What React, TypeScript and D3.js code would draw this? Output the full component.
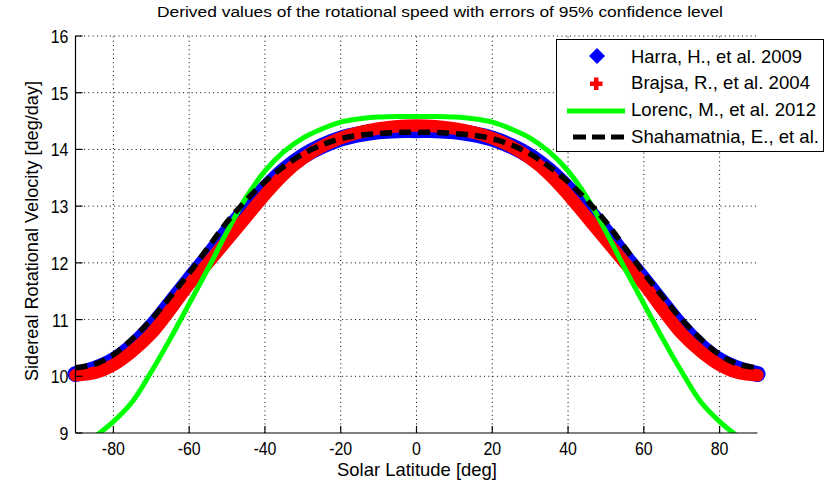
import React from "react";
import * as d3 from "d3";

// solar latitude [deg], one sample every 5 deg
const latitudes = [
  -90, -85, -80, -75, -70, -65, -60, -55, -50, -45, -40, -35, -30, -25, -20, -15, -10, -5, 0,
  5, 10, 15, 20, 25, 30, 35, 40, 45, 50, 55, 60, 65, 70, 75, 80, 85, 90,
];

// sidereal rotational velocity [deg/day]
const harra = [
  10.04, 10.13, 10.28, 10.53, 10.87, 11.28, 11.7, 12.11, 12.55, 12.95, 13.31, 13.63, 13.88, 14.06, 14.19, 14.27, 14.32, 14.34, 14.34,
  14.34, 14.32, 14.27, 14.19, 14.06, 13.88, 13.63, 13.31, 12.95, 12.55, 12.11, 11.7, 11.28, 10.87, 10.53, 10.28, 10.13, 10.04,
];
const brajsa = [
  10.02, 10.06, 10.2, 10.44, 10.75, 11.17, 11.62, 12.0, 12.4, 12.8, 13.2, 13.56, 13.84, 14.05, 14.2, 14.3, 14.37, 14.41, 14.42,
  14.41, 14.37, 14.3, 14.2, 14.05, 13.84, 13.56, 13.2, 12.8, 12.4, 12.0, 11.62, 11.17, 10.75, 10.44, 10.2, 10.06, 10.02,
];
const lorenc = [
  8.7, 8.93, 9.2, 9.55, 10.08, 10.66, 11.28, 11.9, 12.55, 13.15, 13.62, 13.96, 14.2, 14.36, 14.48, 14.54, 14.57, 14.58, 14.58,
  14.58, 14.57, 14.54, 14.48, 14.36, 14.2, 13.96, 13.62, 13.15, 12.55, 11.9, 11.28, 10.66, 10.08, 9.55, 9.2, 8.93, 8.7,
];
const shahamatnia = [
  10.15, 10.21, 10.38, 10.66, 11.0, 11.4, 11.82, 12.27, 12.72, 13.1, 13.43, 13.7, 13.92, 14.08, 14.19, 14.25, 14.28, 14.3, 14.3,
  14.3, 14.28, 14.25, 14.19, 14.08, 13.92, 13.7, 13.43, 13.1, 12.72, 12.27, 11.82, 11.4, 11.0, 10.66, 10.38, 10.21, 10.15,
];

const xTicks = [-80, -60, -40, -20, 0, 20, 40, 60, 80];
const yTicks = [9, 10, 11, 12, 13, 14, 15, 16];

const legendLabels = [
  "Harra, H., et al. 2009",
  "Brajsa, R., et al. 2004",
  "Lorenc, M., et al. 2012",
  "Shahamatnia, E., et al.",
];

const W = 827;
const H = 486;
const font = "'Liberation Sans Narrow', 'Liberation Sans', Arial, sans-serif";

export default function App() {
  const x = d3.scaleLinear().domain([-90, 90]).range([75.5, 757.5]);
  const y = d3.scaleLinear().domain([9, 16]).range([433, 36]);
  const [x0, x1] = x.range();
  const [y0, y1] = y.range();

  const line = (vals: number[]) =>
    d3
      .line<number>()
      .x((_, i) => x(latitudes[i]))
      .y((d) => y(d))
      .curve(d3.curveCatmullRom.alpha(0.5))(vals) || "";

  const legendW = [171, 179, 185, 188];

  return (
    <svg
      width={W}
      height={H}
      style={{ position: "absolute", left: 0, top: 0, background: "#fff" }}
    >
      <defs>
        <clipPath id="plot">
          <rect x={x0} y={y1} width={x1 - x0} height={y0 - y1} />
        </clipPath>
      </defs>

      {/* grid */}
      <g stroke="#000" strokeWidth={1} strokeDasharray="1,3.3">
        {xTicks.map((t) => (
          <line key={"gx" + t} x1={x(t)} x2={x(t)} y1={y0} y2={y1} />
        ))}
        {yTicks.slice(1).map((t) => (
          <line key={"gy" + t} x1={x0} x2={x1} y1={y(t)} y2={y(t)} />
        ))}
      </g>

      {/* series */}
      <path d={line(harra)} fill="none" stroke="#0000ff" strokeWidth={16} strokeLinecap="round" />
      <path d={line(brajsa)} fill="none" stroke="#ff0000" strokeWidth={12.5} strokeLinecap="round" />
      <path d={line(lorenc)} fill="none" stroke="#00ff00" strokeWidth={5} clipPath="url(#plot)" />
      <path d={line(shahamatnia)} fill="none" stroke="#000" strokeWidth={5.5} strokeDasharray="12,7" />

      {/* axes */}
      <g stroke="#000" strokeWidth={1.2}>
        <line x1={x0} x2={x0} y1={y0} y2={y1} />
        <line x1={x0} x2={x1} y1={y0} y2={y0} />
        {xTicks.map((t) => (
          <line key={"tx" + t} x1={x(t)} x2={x(t)} y1={y0} y2={y0 - 7} />
        ))}
        {yTicks.map((t) => (
          <line key={"ty" + t} x1={x0} x2={x0 + 7} y1={y(t)} y2={y(t)} />
        ))}
      </g>
      <g fontFamily={font} fontSize={19} fill="#000">
        {xTicks.map((t) => (
          <text
            key={"lx" + t}
            transform={`translate(${x(t)},${y0 + 22}) scale(0.84,1)`}
            textAnchor="middle"
          >
            {t}
          </text>
        ))}
        {yTicks.map((t) => (
          <text
            key={"ly" + t}
            transform={`translate(${x0 - 7},${y(t) + 7}) scale(0.84,1)`}
            textAnchor="end"
          >
            {t}
          </text>
        ))}
        <text x={417} y={476} textAnchor="middle" textLength={160} lengthAdjust="spacingAndGlyphs">
          Solar Latitude [deg]
        </text>
        <text
          transform={`translate(38,231) rotate(-90)`}
          textAnchor="middle"
          textLength={300}
          lengthAdjust="spacingAndGlyphs"
        >
          Sidereal Rotational Velocity [deg/day]
        </text>
        <text x={157} y={17} fontSize={15.5} textLength={566} lengthAdjust="spacingAndGlyphs">
          Derived values  of the rotational speed with errors of 95% confidence level
        </text>
      </g>

      {/* legend */}
      <g>
        <rect x={556.5} y={39.5} width={267} height={112} fill="#fff" stroke="#000" strokeWidth={1} />
        <path d="M597,48 L605,56 L597,64 L589,56 Z" fill="#0000ff" />
        <path
          d="M594,77.5 h4.5 v4 h4 v4.5 h-4 v4 h-4.5 v-4 h-4 v-4.5 h4 Z"
          fill="#ff0000"
        />
        <line x1={567} x2={625} y1={111} y2={111} stroke="#00ff00" strokeWidth={5} />
        <line x1={573} x2={625} y1={137} y2={137} stroke="#000" strokeWidth={5} strokeDasharray="13,6" />
        {legendLabels.map((l, i) => (
          <text
            key={l}
            x={631}
            y={62.5 + i * 26.7}
            fontFamily={font}
            fontSize={19}
            textLength={legendW[i]}
            lengthAdjust="spacingAndGlyphs"
          >
            {l}
          </text>
        ))}
      </g>
    </svg>
  );
}
